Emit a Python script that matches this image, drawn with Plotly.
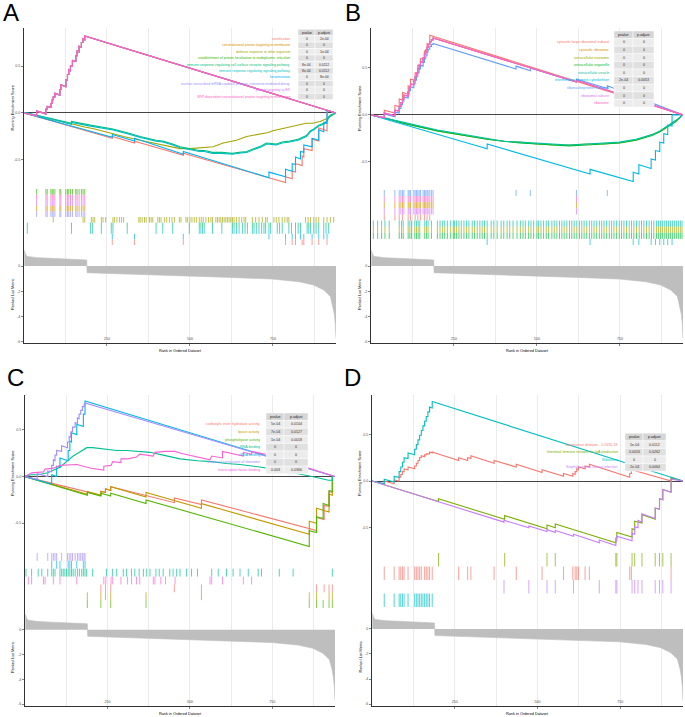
import plotly.graph_objects as go

W, H = 685, 717
N_GENES = 940
FONT = "Liberation Sans, Arial, sans-serif"

# ---------------- shared ranked list metric ----------------
metric_rank = [1, 3, 6, 10, 20, 40, 80, 120, 160, 189, 190, 250, 373, 498, 623, 748, 828, 873, 903, 923, 931, 935, 938, 940]
metric_value = [1.25, 1.00, 0.85, 0.76, 0.71, 0.66, 0.61, 0.57, 0.52, 0.48, -0.53, -0.58, -0.66, -0.77, -0.90, -1.03, -1.24, -1.50, -1.90, -2.40, -3.20, -3.80, -4.60, -5.70]

# ---------------- panel A ----------------
A_terms = ["cornification", "cotranslational protein targeting to membrane",
           "defense response to other organism",
           "establishment of protein localization to endoplasmic reticulum",
           "immune response-regulating cell surface receptor signaling pathway",
           "immune response-regulating signaling pathway", "keratinization",
           "nuclear-transcribed mRNA catabolic process, nonsense-mediated decay",
           "protein targeting to ER",
           "SRP-dependent cotranslational protein targeting to membrane"]
A_colors = ["#F8766D", "#D89000", "#A3A500", "#39B600", "#00BF7D",
            "#00BFC4", "#00B0F6", "#9590FF", "#E76BF3", "#FF62BC"]
A_pvalue = ["0", "0", "0", "0", "8e-04", "8e-04", "0", "0", "0", "0"]
A_padjust = ["2e-04", "0", "1e-04", "0", "0.0112", "0.0112", "8e-04", "0", "0", "0"]
A_rows = [3, 9, 8, 1, 7, 2, 4, 5, 6, 0]

A_hits_ribo = [38, 66, 70, 81, 85, 88, 93, 108, 111, 126, 131, 135, 140, 146, 156, 160, 166, 173, 178, 183]
A_hits_defense = [88, 178, 183, 203, 208, 213, 233, 238, 246, 268, 273, 280, 288, 294, 300, 346, 350, 356,
                  363, 368, 378, 383, 388, 403, 408, 413, 423, 430, 438, 446, 453, 468, 473, 488, 493, 500,
                  506, 513, 520, 528, 534, 540, 548, 556, 563, 568, 578, 583, 588, 593, 598, 603, 608, 613,
                  618, 623, 628, 633, 640, 648, 656, 663, 668, 688, 698, 708, 718, 728, 733, 753, 760, 768,
                  778, 786, 793, 798, 848, 856, 863, 873, 880, 888, 903, 913, 923, 933]
A_hits_immune = [10, 143, 200, 206, 233, 263, 268, 311, 398, 418, 448, 498, 528, 533, 538, 543, 568, 596,
                 628, 633, 640, 648, 658, 666, 673, 688, 693, 700, 708, 716, 723, 728, 738, 743, 763, 770,
                 778, 798, 806, 818, 826, 833, 853, 858, 863, 873, 880, 888, 903, 910, 918]
A_hits_kerat = [266, 333, 480, 738, 788, 808, 818, 833, 843, 868, 888, 903, 913]
A_hits_corn = [266, 333, 480, 788, 808, 818, 838, 843, 868, 888, 913]

A_es_ribo = [(0, 0), (38, -0.03), (38, 0.02), (66, -0.01), (66, 0.04), (70, 0.04), (70, 0.07), (81, 0.06),
             (81, 0.10), (85, 0.10), (85, 0.14), (88, 0.14), (88, 0.17), (93, 0.17), (93, 0.21), (108, 0.19),
             (108, 0.25), (111, 0.25), (111, 0.30), (126, 0.28), (126, 0.35), (131, 0.35), (131, 0.41),
             (135, 0.41), (135, 0.46), (140, 0.45), (140, 0.50), (146, 0.50), (146, 0.56), (156, 0.55),
             (156, 0.61), (160, 0.61), (160, 0.66), (166, 0.65), (166, 0.71), (173, 0.70), (173, 0.75),
             (178, 0.75), (178, 0.79), (183, 0.78), (183, 0.82), (940, 0.0)]
A_es_defense = [(0, 0), (88, -0.08), (88, -0.07), (178, -0.15), (183, -0.15), (213, -0.17), (233, -0.19),
                (246, -0.20), (268, -0.22), (300, -0.25), (350, -0.29), (400, -0.33), (440, -0.36),
                (470, -0.38), (500, -0.38), (540, -0.37), (570, -0.36), (600, -0.32), (640, -0.29),
                (671, -0.25), (700, -0.23), (733, -0.21), (750, -0.19), (790, -0.16), (821, -0.13),
                (850, -0.11), (870, -0.11), (892, -0.09), (913, -0.06), (933, -0.02), (940, 0.0)]
A_es_signal = [(0, 0), (10, 0.0), (143, -0.12), (143, -0.10), (200, -0.14), (233, -0.16), (268, -0.18),
               (311, -0.22), (350, -0.26), (398, -0.30), (418, -0.31), (448, -0.34), (470, -0.37),
               (498, -0.39), (528, -0.41), (543, -0.41), (568, -0.43), (596, -0.43), (628, -0.44),
               (648, -0.43), (671, -0.42), (700, -0.38), (716, -0.36), (731, -0.33), (760, -0.34),
               (778, -0.32), (801, -0.31), (826, -0.29), (851, -0.25), (863, -0.20), (873, -0.18),
               (888, -0.14), (903, -0.12), (911, -0.10), (918, -0.05), (925, -0.03), (940, 0.0)]
A_es_surface = [(0, 0), (10, 0.0), (143, -0.11), (143, -0.09), (200, -0.13), (233, -0.15), (268, -0.17),
                (311, -0.21), (350, -0.25), (398, -0.29), (418, -0.30), (448, -0.33), (470, -0.36),
                (498, -0.38), (528, -0.40), (543, -0.40), (568, -0.42), (596, -0.42), (628, -0.43),
                (648, -0.42), (671, -0.41), (700, -0.37), (716, -0.35), (731, -0.32), (760, -0.33),
                (778, -0.31), (801, -0.30), (826, -0.28), (851, -0.24), (863, -0.19), (873, -0.17),
                (888, -0.13), (903, -0.11), (911, -0.09), (918, -0.04), (925, -0.02), (940, 0.0)]
A_es_kerat = [(0, 0), (266, -0.26), (266, -0.23), (333, -0.30), (333, -0.27), (480, -0.44), (480, -0.41),
              (738, -0.69), (738, -0.63), (788, -0.68), (788, -0.60), (808, -0.62), (808, -0.54),
              (818, -0.55), (818, -0.47), (833, -0.49), (833, -0.41), (843, -0.42), (843, -0.34),
              (868, -0.36), (868, -0.27), (888, -0.29), (888, -0.18), (903, -0.20), (903, -0.10),
              (913, -0.11), (913, 0.03), (940, 0.0)]
A_es_corn = [(0, 0), (266, -0.27), (266, -0.25), (333, -0.32), (333, -0.30), (480, -0.45), (480, -0.43),
             (788, -0.74), (788, -0.68), (808, -0.70), (808, -0.62), (818, -0.63), (818, -0.54),
             (838, -0.56), (838, -0.46), (843, -0.47), (843, -0.38), (868, -0.40), (868, -0.28),
             (888, -0.30), (888, -0.16), (913, -0.19), (913, 0.03), (940, 0.0)]

A_hits = [A_hits_corn, A_hits_ribo, A_hits_defense, A_hits_ribo, A_hits_immune, A_hits_immune,
          A_hits_kerat, A_hits_ribo, A_hits_ribo, A_hits_ribo]
A_es = [A_es_corn, A_es_ribo, A_es_defense, A_es_ribo, A_es_surface, A_es_signal, A_es_kerat,
        A_es_ribo, A_es_ribo, A_es_ribo]

# ---------------- panel B ----------------
B_terms = ["cytosolic large ribosomal subunit", "cytosolic ribosome", "extracellular exosome",
           "extracellular organelle", "extracellular vesicle", "intermediate filament cytoskeleton",
           "ribonucleoprotein complex", "ribosomal subunit", "ribosome"]
B_colors = ["#F8766D", "#D39200", "#93AA00", "#00BA38", "#00C19F", "#00B9E3", "#619CFF", "#DB72FB", "#FF61C3"]
B_pvalue = ["0", "0", "0", "0", "0", "2e-04", "0", "0", "0"]
B_padjust = ["0", "0", "0", "0", "0", "0.0053", "0", "0", "0"]
B_rows = [6, 8, 1, 7, 0, 4, 2, 3, 5]

B_hits_ribo = [40, 72, 85, 90, 95, 99, 112, 115, 119, 129, 133, 137, 141, 145, 149, 157, 161, 165, 169,
               172, 177, 182, 187, 619]
B_hits_cyto_large = [40, 72, 85, 95, 112, 119, 133, 141, 149, 161, 169, 177]
B_hits_rnp = [40, 72, 85, 90, 95, 99, 112, 115, 119, 129, 133, 137, 141, 145, 149, 157, 161, 165, 169,
              172, 177, 182, 187, 437, 480, 619, 712]
B_hits_extracell = [7, 20, 32, 42, 55, 85, 92, 97, 112, 117, 122, 132, 137, 142, 147, 162, 167, 172, 182,
                    200, 208, 215, 222, 230, 240, 248, 252, 258, 265, 272, 280, 288, 295, 305, 312, 320,
                    328, 335, 342, 350, 362, 370, 380, 392, 400, 410, 418, 428, 440, 450, 458, 465, 475,
                    482, 490, 500, 505, 512, 520, 528, 535, 545, 552, 560, 568, 575, 582, 590, 598, 605,
                    612, 620, 628, 635, 642, 650, 658, 665, 672, 680, 688, 695, 702, 710, 718, 725, 732,
                    740, 748, 755, 762, 770, 778, 785, 792, 800, 808, 815, 822, 830, 838, 845, 852, 860,
                    866, 872, 878, 885, 890, 896, 902, 908, 914, 920, 926, 932, 937]
B_hits_filament = [350, 660, 790, 807, 844, 857, 870, 882, 894, 907]

B_es_ribo = [(0, 0), (40, -0.03), (40, 0.02), (72, -0.01), (72, 0.05), (85, 0.04), (85, 0.09), (90, 0.09),
             (90, 0.13), (95, 0.13), (95, 0.17), (99, 0.17), (99, 0.21), (112, 0.20), (112, 0.25), (115, 0.25),
             (115, 0.29), (119, 0.29), (119, 0.33), (129, 0.32), (129, 0.37), (133, 0.37), (133, 0.41),
             (137, 0.41), (137, 0.45), (141, 0.45), (141, 0.49), (145, 0.49), (145, 0.53), (149, 0.53),
             (149, 0.57), (157, 0.56), (157, 0.61), (161, 0.61), (161, 0.65), (165, 0.65), (165, 0.69),
             (169, 0.69), (169, 0.72), (172, 0.72), (172, 0.75), (177, 0.75), (177, 0.78), (182, 0.78),
             (182, 0.80), (187, 0.80), (187, 0.82), (619, 0.35), (619, 0.37), (940, 0.0)]
B_es_cyto_large = [(0, 0), (40, -0.03), (40, 0.05), (72, 0.02), (72, 0.10), (85, 0.09), (85, 0.17),
                   (95, 0.16), (95, 0.24), (112, 0.22), (112, 0.31), (119, 0.30), (119, 0.38), (133, 0.37),
                   (133, 0.45), (141, 0.44), (141, 0.53), (149, 0.52), (149, 0.60), (161, 0.59), (161, 0.68),
                   (169, 0.67), (169, 0.76), (177, 0.75), (177, 0.85), (940, 0.0)]
B_es_rnp = [(0, 0), (40, -0.03), (40, 0.01), (72, -0.02), (72, 0.03), (85, 0.02), (85, 0.07), (90, 0.07),
            (90, 0.11), (95, 0.11), (95, 0.15), (99, 0.15), (99, 0.19), (112, 0.18), (112, 0.22), (115, 0.22),
            (115, 0.26), (119, 0.26), (119, 0.30), (129, 0.29), (129, 0.33), (133, 0.33), (133, 0.37),
            (137, 0.37), (137, 0.41), (141, 0.41), (141, 0.45), (145, 0.45), (145, 0.49), (149, 0.49),
            (149, 0.53), (157, 0.52), (157, 0.56), (161, 0.56), (161, 0.60), (165, 0.60), (165, 0.63),
            (169, 0.63), (169, 0.67), (172, 0.67), (172, 0.70), (177, 0.70), (177, 0.73), (182, 0.73),
            (182, 0.75), (187, 0.75), (187, 0.76), (437, 0.49), (437, 0.52), (480, 0.47), (480, 0.50),
            (619, 0.35), (619, 0.38), (712, 0.28), (712, 0.31), (940, 0.0)]
B_es_exosome = [(0, 0), (50, -0.04), (100, -0.09), (150, -0.13), (200, -0.17), (250, -0.20), (300, -0.23),
                (350, -0.26), (400, -0.28), (447, -0.29), (500, -0.31), (550, -0.32), (597, -0.32),
                (650, -0.31), (700, -0.31), (748, -0.30), (798, -0.27), (847, -0.21), (870, -0.18),
                (888, -0.14), (905, -0.10), (918, -0.07), (930, -0.03), (937, 0.0), (940, 0.0)]
B_es_organelle = [(0, 0), (50, -0.04), (100, -0.09), (150, -0.13), (200, -0.17), (250, -0.20), (300, -0.23),
                  (350, -0.26), (400, -0.28), (447, -0.30), (500, -0.31), (550, -0.32), (597, -0.33),
                  (650, -0.32), (700, -0.31), (748, -0.30), (798, -0.27), (847, -0.22), (870, -0.18),
                  (888, -0.14), (905, -0.10), (918, -0.07), (930, -0.03), (937, 0.0), (940, 0.0)]
B_es_vesicle = [(0, 0), (50, -0.04), (100, -0.08), (150, -0.12), (200, -0.16), (250, -0.19), (300, -0.22),
                (350, -0.25), (400, -0.28), (447, -0.29), (500, -0.30), (550, -0.31), (597, -0.32),
                (650, -0.31), (700, -0.30), (748, -0.29), (798, -0.26), (847, -0.21), (870, -0.17),
                (888, -0.13), (905, -0.09), (918, -0.06), (930, -0.03), (937, 0.0), (940, 0.0)]
B_es_filament = [(0, 0), (350, -0.36), (350, -0.31), (660, -0.63), (660, -0.58), (790, -0.71), (790, -0.61),
                 (807, -0.63), (807, -0.53), (844, -0.57), (844, -0.47), (857, -0.48), (857, -0.38),
                 (870, -0.39), (870, -0.29), (882, -0.30), (882, -0.20), (894, -0.21), (894, -0.11),
                 (907, -0.12), (907, 0.0), (940, 0.0)]

B_hits = [B_hits_cyto_large, B_hits_ribo, B_hits_extracell, B_hits_extracell, B_hits_extracell,
          B_hits_filament, B_hits_rnp, B_hits_ribo, B_hits_ribo]
B_es = [B_es_cyto_large, B_es_ribo, B_es_exosome, B_es_organelle, B_es_vesicle, B_es_filament,
        B_es_rnp, B_es_ribo, B_es_ribo]

# ---------------- panel C ----------------
C_terms = ["carboxylic ester hydrolase activity", "lipase activity", "phospholipase activity",
           "RNA binding", "rRNA binding", "structural constituent of ribosome", "transcription factor binding"]
C_colors = ["#F8766D", "#C49A00", "#53B400", "#00C094", "#00B6EB", "#A58AFF", "#FB61D7"]
C_pvalue = ["5e-04", "7e-04", "1e-04", "0", "0", "0", "0.003"]
C_padjust = ["0.0104", "0.0127", "0.0018", "0", "0", "0", "0.0366"]
C_rows = [5, 4, 3, 6, 0, 1, 2]

C_hits_struct = [37, 69, 81, 86, 91, 96, 111, 129, 134, 139, 144, 152, 159, 164, 169, 174, 179, 182]
C_hits_rrna = [81, 96, 106, 131, 136, 141, 157, 177, 182]
C_hits_rna = [3, 20, 40, 51, 69, 81, 86, 91, 106, 111, 116, 121, 126, 131, 136, 141, 146, 152, 159, 165,
              172, 177, 182, 187, 205, 247, 265, 278, 298, 308, 323, 333, 346, 359, 369, 379, 397, 407,
              419, 439, 449, 460, 470, 490, 505, 523, 566, 586, 611, 631, 652, 677, 707, 717, 771, 813, 932]
C_hits_tf = [10, 20, 56, 61, 86, 106, 157, 239, 245, 261, 266, 291, 311, 323, 338, 348, 389, 394, 412,
             426, 455, 561, 566, 599, 662, 687]
C_hits_carbox = [230, 244, 260, 453, 535, 884, 907, 922, 932]
C_hits_lipase = [189, 230, 244, 260, 367, 535, 862, 884, 922, 932]
C_hits_phospho = [189, 230, 260, 367, 862, 884, 904, 922, 932]

C_es_struct = [(0, 0), (37, -0.03), (37, 0.03), (69, 0.0), (69, 0.06), (81, 0.05), (81, 0.12), (86, 0.12),
               (86, 0.18), (91, 0.17), (91, 0.23), (96, 0.23), (96, 0.28), (111, 0.27), (111, 0.33),
               (129, 0.31), (129, 0.37), (134, 0.37), (134, 0.43), (139, 0.42), (139, 0.48), (144, 0.48),
               (144, 0.53), (152, 0.53), (152, 0.58), (159, 0.57), (159, 0.63), (164, 0.62), (164, 0.67),
               (169, 0.67), (169, 0.71), (174, 0.71), (174, 0.75), (179, 0.75), (179, 0.77), (182, 0.77),
               (182, 0.79), (940, 0.0)]
C_es_rrna = [(0, 0), (81, -0.08), (81, 0.02), (96, 0.0), (96, 0.11), (106, 0.10), (106, 0.20), (131, 0.17),
             (131, 0.28), (136, 0.28), (136, 0.38), (141, 0.37), (141, 0.47), (157, 0.45), (157, 0.56),
             (177, 0.54), (177, 0.67), (182, 0.67), (182, 0.81), (940, 0.0)]
C_es_rna = [(0, 0), (3, 0.01), (20, 0.02), (40, 0.02), (69, 0.04), (106, 0.10), (126, 0.16), (146, 0.22),
            (165, 0.26), (187, 0.31), (205, 0.31), (247, 0.29), (278, 0.28), (308, 0.28), (346, 0.27),
            (379, 0.26), (419, 0.23), (470, 0.19), (523, 0.17), (566, 0.16), (611, 0.14), (652, 0.13),
            (717, 0.10), (771, 0.07), (813, 0.04), (870, 0.0), (920, -0.04), (932, -0.04), (932, 0.0),
            (940, 0.0)]
C_es_tf = [(0, 0), (10, 0.02), (20, 0.04), (56, 0.05), (61, 0.08), (86, 0.09), (106, 0.12), (157, 0.13),
           (200, 0.09), (239, 0.07), (239, 0.11), (261, 0.12), (266, 0.16), (291, 0.15), (291, 0.19),
           (311, 0.19), (338, 0.21), (348, 0.24), (389, 0.22), (394, 0.26), (426, 0.27), (455, 0.27),
           (472, 0.25), (561, 0.18), (566, 0.22), (599, 0.20), (599, 0.27), (662, 0.22), (662, 0.26),
           (687, 0.24), (687, 0.27), (730, 0.24), (940, 0.0)]
C_es_carbox = [(0, 0), (230, -0.20), (230, -0.16), (244, -0.17), (244, -0.13), (260, -0.15), (260, -0.11),
               (453, -0.28), (453, -0.23), (535, -0.30), (535, -0.25), (884, -0.58), (884, -0.44),
               (907, -0.46), (907, -0.31), (922, -0.32), (922, -0.16), (932, -0.17), (932, 0.0), (940, 0.0)]
C_es_lipase = [(0, 0), (189, -0.19), (189, -0.16), (230, -0.20), (230, -0.16), (244, -0.17), (244, -0.13),
               (260, -0.15), (260, -0.11), (367, -0.22), (367, -0.17), (535, -0.34), (535, -0.29),
               (862, -0.62), (862, -0.48), (884, -0.50), (884, -0.34), (922, -0.38), (922, -0.19),
               (932, -0.20), (932, 0.0), (940, 0.0)]
C_es_phospho = [(0, 0), (189, -0.20), (189, -0.17), (230, -0.21), (230, -0.18), (260, -0.21), (260, -0.18),
                (367, -0.29), (367, -0.25), (862, -0.75), (862, -0.58), (884, -0.60), (884, -0.43),
                (904, -0.45), (904, -0.29), (922, -0.31), (922, -0.15), (932, -0.16), (932, 0.0), (940, 0.0)]

C_hits = [C_hits_carbox, C_hits_lipase, C_hits_phospho, C_hits_rna, C_hits_rrna, C_hits_struct, C_hits_tf]
C_es = [C_es_carbox, C_es_lipase, C_es_phospho, C_es_rna, C_es_rrna, C_es_struct, C_es_tf]

# ---------------- panel D ----------------
D_terms = ["Coronavirus disease - COVID-19", "Intestinal immune network for IgA production",
           "Ribosome", "Staphylococcus aureus infection"]
D_colors = ["#F8766D", "#7CAE00", "#00BFC4", "#C77CFF"]
D_pvalue = ["5e-04", "0.0016", "0", "2e-04"]
D_padjust = ["0.0112", "0.0262", "0", "0.0064"]
D_rows = [1, 0, 3, 2]

D_hits_covid = [37, 67, 82, 87, 92, 97, 109, 129, 134, 139, 144, 149, 159, 164, 169, 174, 182, 262, 289,
                299, 369, 436, 514, 579, 607, 614, 619, 624, 644, 657, 779, 784, 904]
D_hits_iga = [201, 401, 529, 554, 737, 740, 786, 794, 816, 856, 869, 879, 904]
D_hits_ribosome = [37, 67, 82, 87, 92, 97, 109, 129, 134, 139, 144, 149, 154, 159, 164, 169, 174, 182]
D_hits_staph = [399, 474, 529, 554, 609, 687, 737, 740, 786, 794, 804, 816, 856, 869, 879, 904]

D_es_covid = [(0, 0), (37, -0.03), (37, 0.0), (67, -0.03), (67, 0.01), (82, 0.0), (82, 0.04), (87, 0.04),
              (87, 0.07), (92, 0.07), (92, 0.10), (97, 0.10), (97, 0.13), (109, 0.12), (109, 0.15),
              (129, 0.13), (129, 0.16), (134, 0.16), (134, 0.19), (139, 0.19), (139, 0.22), (144, 0.22),
              (144, 0.25), (149, 0.25), (149, 0.27), (159, 0.26), (159, 0.28), (164, 0.28), (164, 0.29),
              (174, 0.29), (174, 0.31), (182, 0.30), (182, 0.31), (262, 0.22), (262, 0.25), (289, 0.22),
              (289, 0.25), (299, 0.24), (299, 0.27), (369, 0.19), (369, 0.22), (436, 0.15), (436, 0.18),
              (514, 0.09), (514, 0.12), (579, 0.05), (579, 0.08), (607, 0.05), (607, 0.08), (614, 0.07),
              (614, 0.10), (619, 0.10), (619, 0.13), (624, 0.12), (624, 0.15), (644, 0.13), (644, 0.16),
              (657, 0.15), (657, 0.18), (779, 0.04), (779, 0.08), (784, 0.08), (784, 0.12), (904, 0.0),
              (904, 0.04), (940, 0.0)]
D_es_iga = [(0, 0), (201, -0.22), (201, -0.19), (401, -0.41), (401, -0.37), (529, -0.51), (529, -0.47),
            (554, -0.50), (554, -0.46), (737, -0.66), (737, -0.61), (740, -0.61), (740, -0.55),
            (786, -0.60), (786, -0.51), (794, -0.52), (794, -0.43), (816, -0.45), (816, -0.36),
            (856, -0.41), (856, -0.29), (869, -0.30), (869, -0.19), (879, -0.20), (879, -0.09),
            (904, -0.12), (904, 0.03), (940, 0.0)]
D_es_ribosome = [(0, 0), (37, -0.03), (37, 0.02), (67, -0.01), (67, 0.05), (82, 0.04), (82, 0.10), (87, 0.10),
                 (87, 0.15), (92, 0.15), (92, 0.20), (97, 0.20), (97, 0.25), (109, 0.24), (109, 0.30),
                 (129, 0.28), (129, 0.34), (134, 0.34), (134, 0.39), (139, 0.39), (139, 0.44), (144, 0.44),
                 (144, 0.49), (149, 0.49), (149, 0.54), (154, 0.54), (154, 0.59), (159, 0.59), (159, 0.64),
                 (164, 0.64), (164, 0.69), (169, 0.69), (169, 0.74), (174, 0.74), (174, 0.79), (182, 0.78),
                 (182, 0.85), (940, 0.0)]
D_es_staph = [(0, 0), (399, -0.44), (399, -0.42), (474, -0.50), (474, -0.48), (529, -0.54), (529, -0.52),
              (554, -0.55), (554, -0.53), (609, -0.59), (609, -0.57), (687, -0.66), (687, -0.63),
              (737, -0.69), (737, -0.64), (740, -0.64), (740, -0.59), (786, -0.64), (786, -0.56),
              (794, -0.57), (794, -0.49), (804, -0.50), (804, -0.42), (816, -0.44), (816, -0.35),
              (856, -0.40), (856, -0.29), (869, -0.30), (869, -0.19), (879, -0.20), (879, -0.09),
              (904, -0.12), (904, 0.02), (940, 0.0)]

D_hits = [D_hits_covid, D_hits_iga, D_hits_ribosome, D_hits_staph]
D_es = [D_es_covid, D_es_iga, D_es_ribosome, D_es_staph]

# ---------------- layout geometry (pixels) ----------------
panels = [
    dict(letter="A", lx=11, ly=13, left=24, right=336, es=(28, 189), es_range=(-0.81, 0.905),
         hits=(189, 245), met=(245, 343), met_range=(-6.08, 1.66), ytitle_x=13, xtitle_y=350.5,
         terms=A_terms, colors=A_colors, pv=A_pvalue, pa=A_padjust, rows=A_rows, hitlists=A_hits, es_lists=A_es,
         tab=dict(label_right=292, c1=(298, 315), c2=(315, 333), top=29.3, rh=6.4, fs=3.4)),
    dict(letter="B", lx=353, ly=13, left=371, right=683, es=(28, 190), es_range=(-0.80, 0.926),
         hits=(190, 245), met=(245, 343), met_range=(-6.08, 1.66), ytitle_x=360, xtitle_y=350.5,
         terms=B_terms, colors=B_colors, pv=B_pvalue, pa=B_padjust, rows=B_rows, hitlists=B_hits, es_lists=B_es,
         tab=dict(label_right=611, c1=(614, 633), c2=(633, 654), top=31, rh=7.6, fs=3.6)),
    dict(letter="C", lx=15, ly=377, left=25, right=335, es=(395, 553), es_range=(-0.82, 0.875),
         hits=(553, 608), met=(608, 706), met_range=(-6.15, 1.75), ytitle_x=13, xtitle_y=713.5,
         terms=C_terms, colors=C_colors, pv=C_pvalue, pa=C_padjust, rows=C_rows, hitlists=C_hits, es_lists=C_es,
         tab=dict(label_right=262, c1=(266, 284), c2=(284, 308), top=413, rh=7.6, fs=3.6)),
    dict(letter="D", lx=353, ly=377, left=372, right=683, es=(395, 553), es_range=(-0.77, 0.92),
         hits=(553, 607), met=(607, 706), met_range=(-6.15, 1.75), ytitle_x=360, xtitle_y=713.5,
         terms=D_terms, colors=D_colors, pv=D_pvalue, pa=D_padjust, rows=D_rows, hitlists=D_hits, es_lists=D_es,
         tab=dict(label_right=620, c1=(625, 643), c2=(643, 666), top=433.2, rh=7.6, fs=3.6)),
]


def fx(px):
    return px / W


def fy(py):
    return 1 - py / H


AXC = "#333333"
GRID = "#ebebeb"
TICKF = dict(family=FONT, size=3.6, color="#4d4d4d")

fig = go.Figure()
layout = dict(width=W, height=H, margin=dict(l=0, r=0, t=0, b=0), paper_bgcolor="white",
              plot_bgcolor="white", showlegend=False, font=dict(family=FONT))
annotations = []
shapes = []

for p, g in enumerate(panels):
    k_es, k_hit, k_met = 3 * p + 1, 3 * p + 2, 3 * p + 3
    for k, (top, bot) in zip((k_es, k_hit, k_met), (g["es"], g["hits"], g["met"])):
        xa = "xaxis" if k == 1 else f"xaxis{k}"
        ya = "yaxis" if k == 1 else f"yaxis{k}"
        yname = "y" if k == 1 else f"y{k}"
        xname = "x" if k == 1 else f"x{k}"
        is_met = (k == k_met)
        layout[xa] = dict(domain=[fx(g["left"]), fx(g["right"])], anchor=yname, range=[0, N_GENES],
                          tickvals=[250, 500, 750], showgrid=True, gridcolor=GRID, gridwidth=1,
                          minor=dict(tickvals=[125, 375, 625, 875], showgrid=True, gridcolor=GRID, gridwidth=1),
                          zeroline=False, showticklabels=is_met, ticks="outside" if is_met else "",
                          ticklen=2, tickwidth=0.6, tickcolor=AXC, showline=is_met, linecolor=AXC,
                          linewidth=1, tickfont=TICKF, fixedrange=True, ticklabelstandoff=-10)
        ydict = dict(domain=[fy(bot), fy(top)], anchor=xname, showgrid=False, showline=True,
                     linecolor=AXC, linewidth=1, fixedrange=True, tickfont=TICKF)
        if k == k_es:
            ydict.update(range=list(g["es_range"]), tickvals=[-0.5, 0, 0.5], ticktext=["-0.5", "0.0", "0.5"],
                         ticks="outside", ticklen=2, tickwidth=0.6, tickcolor=AXC,
                         zeroline=True, zerolinecolor="#444444", zerolinewidth=1)
        elif k == k_hit:
            ydict.update(range=[0, len(g["terms"])], showticklabels=False, ticks="", zeroline=False)
        else:
            ydict.update(range=list(g["met_range"]), tickvals=[-6, -4, -2, 0],
                         ticktext=["-6", "-4", "-2", "0"], ticks="outside", ticklen=2, tickwidth=0.6,
                         tickcolor=AXC, zeroline=False)
        layout[ya] = ydict

    xs = lambda k: "x" if k == 1 else f"x{k}"
    ys = lambda k: "y" if k == 1 else f"y{k}"

    # running enrichment score curves (factor order: last drawn on top)
    for i, term in enumerate(g["terms"]):
        pts = g["es_lists"][i]
        fig.add_trace(go.Scatter(x=[a for a, b in pts], y=[b for a, b in pts], mode="lines",
                                 line=dict(color=g["colors"][i], width=1.1), xaxis=xs(k_es), yaxis=ys(k_es),
                                 hoverinfo="skip"))

    # hit positions, one row per gene set
    nrows = len(g["terms"])
    for row_pos, ti in enumerate(g["rows"]):
        lo = nrows - 1 - row_pos
        hx, hy = [], []
        for r in g["hitlists"][ti]:
            hx += [r, r, None]
            hy += [lo, lo + 1, None]
        fig.add_trace(go.Scatter(x=hx, y=hy, mode="lines", line=dict(color=g["colors"][ti], width=0.9),
                                 opacity=0.75, xaxis=xs(k_hit), yaxis=ys(k_hit), hoverinfo="skip"))

    # ranked list metric
    fig.add_trace(go.Scatter(x=metric_rank, y=metric_value, mode="lines", fill="tozeroy",
                             fillcolor="#bebebe", line=dict(color="#bebebe", width=0.6),
                             xaxis=xs(k_met), yaxis=ys(k_met), hoverinfo="skip"))

    # titles
    annotations.append(dict(text=g["letter"], x=fx(g["lx"]), y=fy(g["ly"]), xref="paper", yref="paper",
                            showarrow=False, xanchor="center", yanchor="middle",
                            font=dict(family=FONT, size=24, color="black")))
    annotations.append(dict(text="Running Enrichment Score", x=fx(g["ytitle_x"]),
                            y=fy((g["es"][0] + g["es"][1]) / 2), xref="paper", yref="paper",
                            showarrow=False, textangle=-90, xanchor="center", yanchor="middle",
                            font=dict(family=FONT, size=3.8, color="black")))
    annotations.append(dict(text="Ranked List Metric", x=fx(g["ytitle_x"]),
                            y=fy((g["met"][0] + g["met"][1]) / 2), xref="paper", yref="paper",
                            showarrow=False, textangle=-90, xanchor="center", yanchor="middle",
                            font=dict(family=FONT, size=3.8, color="black")))
    annotations.append(dict(text="Rank in Ordered Dataset", x=fx((g["left"] + g["right"]) / 2),
                            y=fy(g["xtitle_y"]), xref="paper", yref="paper", showarrow=False,
                            xanchor="center", yanchor="middle", borderpad=0, borderwidth=0,
                            font=dict(family=FONT, size=3.8, color="black")))

    # p-value table
    t = g["tab"]
    def cell(x0, x1, y0, y1, color):
        shapes.append(dict(type="rect", xref="paper", yref="paper", x0=fx(x0), x1=fx(x1),
                           y0=fy(y1), y1=fy(y0), fillcolor=color, line=dict(color="white", width=0.5),
                           layer="above"))
    hdr_y0 = t["top"]
    cell(t["c1"][0], t["c1"][1], hdr_y0, hdr_y0 + t["rh"], "#d6d6d6")
    cell(t["c2"][0], t["c2"][1], hdr_y0, hdr_y0 + t["rh"], "#d6d6d6")
    for txt, c in (("pvalue", t["c1"]), ("p.adjust", t["c2"])):
        annotations.append(dict(text=txt, x=fx((c[0] + c[1]) / 2), y=fy(hdr_y0 + t["rh"] / 2),
                                xref="paper", yref="paper", showarrow=False, xanchor="center",
                                yanchor="middle", font=dict(family=FONT, size=t["fs"], color="#1a1a1a")))
    for i, term in enumerate(g["terms"]):
        y0 = t["top"] + t["rh"] * (i + 1)
        y1 = y0 + t["rh"]
        bg = "#ececec" if i % 2 == 0 else "#e0e0e0"
        cell(t["c1"][0], t["c1"][1], y0, y1, bg)
        cell(t["c2"][0], t["c2"][1], y0, y1, bg)
        yc = fy((y0 + y1) / 2)
        annotations.append(dict(text=term, x=fx(t["label_right"]), y=yc, xref="paper", yref="paper",
                                showarrow=False, xanchor="right", yanchor="middle",
                                font=dict(family=FONT, size=t["fs"], color=g["colors"][i])))
        for txt, c in ((g["pv"][i], t["c1"]), (g["pa"][i], t["c2"])):
            annotations.append(dict(text=txt, x=fx((c[0] + c[1]) / 2), y=yc, xref="paper", yref="paper",
                                    showarrow=False, xanchor="center", yanchor="middle",
                                    font=dict(family=FONT, size=t["fs"], color="#333333")))

layout["annotations"] = annotations
layout["shapes"] = shapes
fig.update_layout(**layout)
fig.write_html("out.html", config={"displayModeBar": False, "staticPlot": True},
               post_script="document.body.style.margin='0px';document.body.style.padding='0px';")
